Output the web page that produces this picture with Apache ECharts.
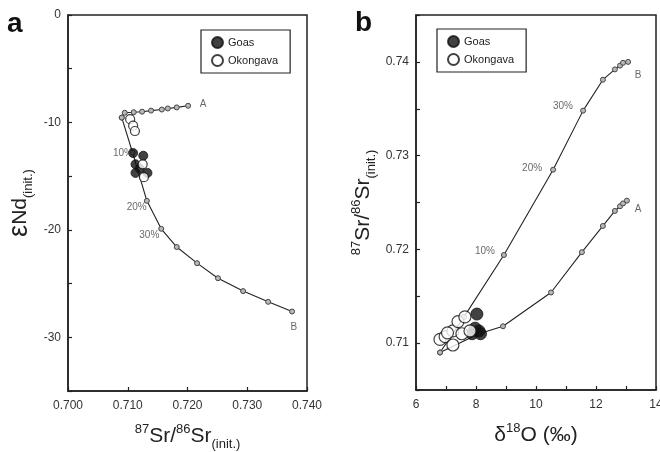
<!DOCTYPE html>
<html>
<head>
<meta charset="utf-8">
<script src="https://cdn.jsdelivr.net/npm/echarts@6/dist/echarts.min.js"></script>
<style>
  html, body { margin: 0; padding: 0; background: #fff; }
  #chart { width: 660px; height: 452px; }
</style>
</head>
<body>
<div id="chart"></div>
<script>
// panel a : eNd vs 87Sr/86Sr
var mixA_a = [[0.7201, -8.45], [0.7182, -8.6], [0.7167, -8.7], [0.7157, -8.8], [0.7139, -8.9],
  [0.7124, -9.0], [0.7110, -9.05], [0.7095, -9.1], [0.7090, -9.55]];
var mixB_a = [[0.7090, -9.55], [0.7108, -12.8], [0.7132, -17.3], [0.7156, -19.9], [0.7182, -21.6],
  [0.7216, -23.1], [0.7251, -24.5], [0.7293, -25.7], [0.7335, -26.7], [0.7375, -27.6]];
var goas_a = [[0.7109, -12.85], [0.7126, -13.1], [0.7113, -13.9], [0.7113, -14.7], [0.7133, -14.7], [0.7120, -14.3]];
var okong_a = [[0.7104, -9.7], [0.7109, -10.3], [0.7112, -10.8], [0.7125, -13.9], [0.7127, -15.1]];
var labels_a = [[0.7226, -8.3, 'A'], [0.7378, -29.1, 'B'], [0.7092, -12.9, '10%'],
  [0.7115, -17.9, '20%'], [0.7136, -20.5, '30%']];

// panel b : 87Sr/86Sr vs d18O
var mixA_b = [[6.8, 0.7090], [8.1, 0.7110], [8.9, 0.7118], [10.5, 0.7154], [11.53, 0.7197],
  [12.23, 0.7225], [12.63, 0.7241], [12.8, 0.7246], [12.9, 0.7249], [13.03, 0.7252]];
var mixB_b = [[6.8, 0.7090], [7.6, 0.7128], [8.93, 0.7194], [10.57, 0.7285], [11.57, 0.7348],
  [12.23, 0.7381], [12.63, 0.7392], [12.8, 0.7396], [12.9, 0.7399], [13.07, 0.7400]];
var goas_b = [[8.03, 0.7131], [8.1, 0.7113], [7.97, 0.7116], [7.87, 0.7110], [8.15, 0.7110]];
var okong_b = [[6.8, 0.7104], [6.97, 0.7107], [7.23, 0.7113], [7.4, 0.7123], [7.63, 0.7128],
  [7.53, 0.7110], [7.8, 0.7113], [7.23, 0.7098], [7.05, 0.7111]];
var labels_b = [[13.4, 0.7386, 'B'], [13.4, 0.7243, 'A'], [10.9, 0.7353, '30%'],
  [9.87, 0.7287, '20%'], [8.3, 0.7198, '10%']];

var FONT = 'Liberation Sans';
var INK = '#222';

var titleRich = {
  big: { fontSize: 21, fontFamily: FONT, color: INK, lineHeight: 26 },
  eps: { fontSize: 27, fontFamily: FONT, color: INK, lineHeight: 26 },
  sup: { fontSize: 13, fontFamily: FONT, color: INK, verticalAlign: 'top', lineHeight: 26 },
  sub: { fontSize: 13, fontFamily: FONT, color: INK, verticalAlign: 'bottom', lineHeight: 26, padding: [0, 0, -2, 0] }
};

function axisBase(extra) {
  var o = {
    type: 'value',
    scale: true,
    splitLine: { show: false },
    axisLine: { show: true, onZero: false, lineStyle: { color: INK, width: 1.5 } },
    axisTick: { inside: true, length: 4, lineStyle: { color: INK, width: 1.2 } },
    nameLocation: 'middle',
    nameTextStyle: { rich: titleRich }
  };
  for (var k in extra) o[k] = extra[k];
  return o;
}

function tickLabels(fmt, margin) {
  return { color: '#333', fontSize: 12, fontFamily: FONT, margin: margin, formatter: fmt };
}

function curve(data, xi, yi) {
  return {
    type: 'line', data: data, xAxisIndex: xi, yAxisIndex: yi,
    symbol: 'circle', symbolSize: 5, showSymbol: true, silent: true,
    lineStyle: { color: '#222', width: 1.1 },
    itemStyle: { color: '#b8b8b8', borderColor: '#444', borderWidth: 1 },
    z: 2
  };
}

function samples(name, data, xi, yi, size, filled) {
  return {
    name: name, type: 'scatter', data: data, xAxisIndex: xi, yAxisIndex: yi,
    symbolSize: size,
    itemStyle: filled ? { color: '#111', borderColor: '#111', borderWidth: 1 }
                      : { color: '#fff', borderColor: '#111', borderWidth: 1.2 },
    z: 3
  };
}

function notes(data, xi, yi) {
  return {
    type: 'scatter', data: data, xAxisIndex: xi, yAxisIndex: yi,
    symbolSize: 0, silent: true,
    label: { show: true, position: 'inside', formatter: function (p) { return p.value[2]; },
      fontSize: 10, fontFamily: FONT, color: '#444' },
    z: 4
  };
}

var legendStyle = {
  orient: 'vertical', data: ['Goas', 'Okongava'],
  borderColor: INK, borderWidth: 1.2, padding: [6, 12, 6, 10],
  itemWidth: 11, itemHeight: 11, itemGap: 5,
  textStyle: { fontSize: 11, fontFamily: FONT, color: '#222' },
  selectedMode: false
};

var chart = echarts.init(document.getElementById('chart'));
chart.setOption({
  animation: false,
  grid: [
    { left: 68, top: 15, width: 239, height: 376, show: true, borderColor: INK, borderWidth: 1.5,
      outerBoundsMode: 'none' },
    { left: 416, top: 15, width: 240, height: 375, show: true, borderColor: INK, borderWidth: 1.5,
      outerBoundsMode: 'none' }
  ],
  xAxis: [
    axisBase({ gridIndex: 0, min: 0.7, max: 0.74, interval: 0.01,
      axisLabel: tickLabels(function (v) { return v.toFixed(3); }, 9),
      name: '{sup|87}{big|Sr/}{sup|86}{big|Sr}{sub|(init.)}', nameGap: 32 }),
    axisBase({ gridIndex: 1, min: 6, max: 14, interval: 1,
      axisLabel: tickLabels(function (v) { return v % 2 === 0 ? String(v) : ''; }, 9),
      name: '{big|δ}{sup|18}{big|O (‰)}', nameGap: 32 })
  ],
  yAxis: [
    axisBase({ gridIndex: 0, min: -35, max: 0, interval: 5,
      axisLabel: tickLabels(function (v) { return v % 10 === 0 && v !== -35 ? String(v) : ''; }, 7),
      name: '{eps|ε}{big|Nd}{sub|(init.)}', nameGap: 35, nameRotate: 90 }),
    axisBase({ gridIndex: 1, min: 0.705, max: 0.745, interval: 0.005,
      axisLabel: tickLabels(function (v) { return Math.round(v * 1000) % 10 === 0 ? v.toFixed(2) : ''; }, 7),
      name: '{sup|87}{big|Sr/}{sup|86}{big|Sr}{sub|(init.)}', nameGap: 40, nameRotate: 90 })
  ],
  legend: [
    Object.assign({ left: 201, top: 30 }, legendStyle),
    Object.assign({ left: 437, top: 29 }, legendStyle)
  ],
  graphic: [
    { type: 'text', left: 7, top: 10, style: { text: 'a', font: 'bold 28px "Liberation Sans"', fill: '#111' } },
    { type: 'text', left: 355, top: 9, style: { text: 'b', font: 'bold 28px "Liberation Sans"', fill: '#111' } }
  ],
  series: [
    curve(mixA_a, 0, 0),
    curve(mixB_a, 0, 0),
    samples('Goas', goas_a, 0, 0, 9, true),
    samples('Okongava', okong_a, 0, 0, 9, false),
    notes(labels_a, 0, 0),
    curve(mixA_b, 1, 1),
    curve(mixB_b, 1, 1),
    samples('Goas', goas_b, 1, 1, 12, true),
    samples('Okongava', okong_b, 1, 1, 12, false),
    notes(labels_b, 1, 1)
  ]
});
</script>
</body>
</html>
